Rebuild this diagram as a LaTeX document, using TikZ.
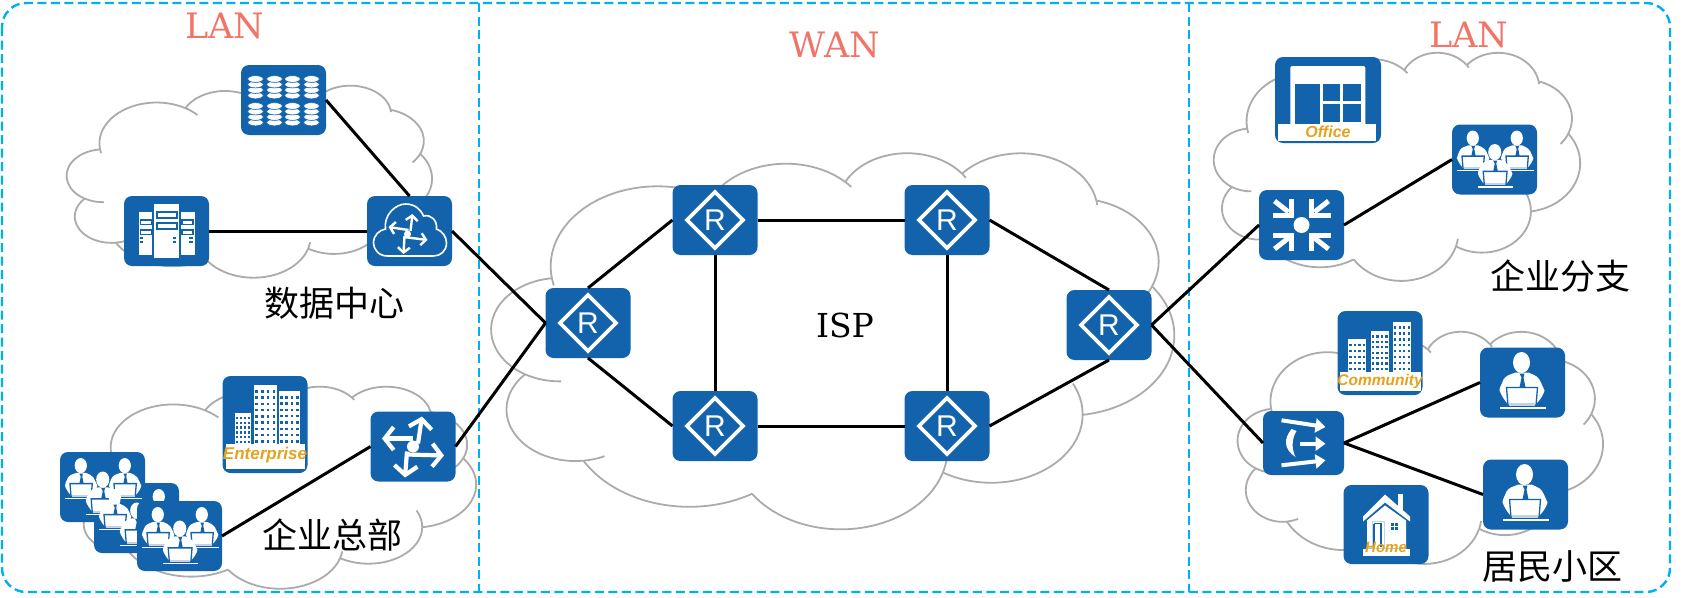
\documentclass[tikz,border=0pt]{standalone}
\usepackage{fontspec}
\setmainfont{DejaVu Serif}
\newfontfamily\cjkfont{Noto Sans CJK SC}
\newfontfamily\glyphfont{Liberation Sans}
\usetikzlibrary{arrows.meta}
\definecolor{boxblue}{HTML}{1363AC}
\definecolor{framecyan}{HTML}{00B0F0}
\definecolor{titlered}{HTML}{F07467}
\definecolor{cloudgray}{HTML}{ABABAB}
\definecolor{labelgold}{HTML}{E2A31E}
\definecolor{stripblue}{HTML}{C5D2E8}
\tikzset{
  devbox/.style={fill=boxblue,rounded corners=8pt,inner sep=0pt,outer sep=0pt,minimum width=85pt,minimum height=70pt},
  link/.style={line width=3pt,black},
  cloudline/.style={line width=1.8pt,cloudgray},
  zoneline/.style={line width=2.4pt,framecyan,dash pattern=on 9pt off 4.5pt},
  zonetitle/.style={titlered,font=\fontsize{35}{40}\selectfont},
  sitelabel/.style={black,font=\cjkfont\fontsize{35}{40}\selectfont},
  glyphline/.style={line width=3.8pt,white,line join=miter},
  taglabel/.style={labelgold,font=\glyphfont\itshape\bfseries\fontsize{#1}{#1}\selectfont,inner sep=0pt},
}
% cloud outline, one arc per lobe: rx/ry/start/sweep/extra before/extra after
\newcommand{\cloudshape}[4]{%
  \begin{scope}[shift={(#1,#2)},xscale=#3/432,yscale=#4/432]
    \coordinate (cpt) at (39,143.7);
    \foreach \rx/\ry/\sa/\sw/\pre/\post in {
      67.53/91.90/-190.49/123.78/8/14,
      53.33/72.67/-144.10/89.95/0/6,
      43.65/59.45/-145.81/99.72/0/6,
      48.57/65.95/-130.99/117.24/0/6,
      53.33/72.73/-78.71/109.03/0/20,
      67.75/92.20/-46.27/130.27/0/0,
      57.85/78.67/0.63/114.03/35/0,
      67.52/92.15/22.45/115.17/12/0,
      77.20/105.43/66.24/75.71/0/0,
      43.60/59.18/85.06/146.74/14/0,
      43.45/59.45/113.17/152.52/24/0}{
      \pgfmathsetmacro{\ta}{vang(\sa,\rx/\ry)}
      \pgfmathsetmacro{\tb}{vang(\sa+\sw,\rx/\ry)}
      \pgfmathsetmacro{\tc}{vang(\sa+\sw+\post,\rx/\ry)}
      \pgfmathsetmacro{\td}{vang(\sa-\pre,\rx/\ry)}
      \draw[cloudline] (cpt) arc[x radius=\rx,y radius=\ry,start angle=\ta,end angle=\tb] coordinate (cnext);
      \draw[cloudline] (cnext) arc[x radius=\rx,y radius=\ry,start angle=\tb,end angle=\tc];
      \draw[cloudline] (cpt) arc[x radius=\rx,y radius=\ry,start angle=\ta,end angle=\td];
      \coordinate (cpt) at (cnext);
    }
  \end{scope}}
\newcommand{\routerglyph}[1]{%
  \begin{scope}[shift={(#1.center)}]
    \draw[glyphline] (-28,0) -- (0,-28) -- (28,0) -- (0,28) -- cycle;
    \node[white,inner sep=0pt,font=\glyphfont\fontsize{30}{30}\selectfont] (#1r) at (0,0) {R};
  \end{scope}}
\newcommand{\towerglyph}[6]{%
  \fill[white] (#1,#2) rectangle ++(#3,#4);
  \foreach \i in {1,...,#5}
    \foreach \j in {1,...,#6}
      \fill[boxblue] ({#1+#3*(\i-.5)/#5-1.2},{#2+3+(#4-3)*(\j-.5)/#6-1.2}) rectangle ++(2.4,2.4);}
\newcommand{\personglyph}[3]{%
  \begin{scope}[shift={(#1,#2)},scale=#3]
    \fill[white] (-1,-20) ellipse (8.5 and 10.5);
    \fill[white] (-7,-10) .. controls (-12,-8) and (-17,-7) .. (-19,-3) .. controls (-21,2) and (-23,5) .. (-23,8)
      .. controls (-21,13) and (-18,18) .. (-15,21) -- (14,21) .. controls (18,17) and (21,12) .. (22,8)
      .. controls (20,4) and (18,-2) .. (16,-4) .. controls (14,-7) and (10,-8) .. (6,-10) -- cycle;
    \fill[boxblue] (-3,-9) -- (2,-9) -- (1,-5) -- (3,5) -- (-3,5) -- (-1,-5) -- cycle;
    \draw[boxblue,line width=1.3pt,fill=white] (-16,5) -- (15,5) -- (13.5,23) -- (-14.5,23) -- cycle;
    \fill[stripblue] (-13.5,20.5) rectangle (12.5,23);
    \fill[white] (-23,24.5) rectangle (23,26);
  \end{scope}}
\newcommand{\groupglyph}[1]{%
  \begin{scope}[shift={(#1.center)}]
    \personglyph{-21}{-7}{.72}
    \personglyph{23}{-7}{.72}
    \personglyph{1}{8}{.77}
  \end{scope}}
\newcommand{\userglyph}[1]{%
  \begin{scope}[shift={(#1.center)}]
    \personglyph{0}{0}{1}
  \end{scope}}
\begin{document}
\begin{tikzpicture}[x=1pt,y=-1pt,
  declare function={vang(\a,\r)=atan2(\r*sin(\a),cos(\a))+360*round((\a-atan2(\r*sin(\a),cos(\a)))/360);}]
  \useasboundingbox (0,0) rectangle (1688,597);

  % Clouds
  \cloudshape{67}{85}{365}{192}
  \cloudshape{490}{152}{683}{376}
  \cloudshape{75}{386}{401}{202}
  \cloudshape{1214}{52}{366}{228}
  \cloudshape{1238}{331}{365}{232}

  % Zones
  \draw[zoneline,rounded corners=24pt] (2,3) rectangle (1670,592);
  \draw[zoneline] (479,3) -- (479,592);
  \draw[zoneline] (1189,3) -- (1189,592);
  \node[zonetitle] (lanleft) at (225,26) {LAN};
  \node[zonetitle] (wan) at (835,45) {WAN};
  \node[zonetitle] (lanright) at (1469,35) {LAN};
  \node[font=\fontsize{33}{40}\selectfont] (isp) at (845,325) {ISP};

  % Data centre
  \node[devbox] (storage) at (283.5,100) {};
  \node[devbox] (servers) at (166.5,231) {};
  \node[devbox] (cloudgw) at (409.5,231) {};
  \node[sitelabel] (dclabel) at (334,303) {数据中心};

  % Headquarters
  \node[devbox,minimum height=97pt] (enterprise) at (265,424.5) {};
  \node[devbox] (hqgw) at (413,446.5) {};
  \node[devbox] (hqusersa) at (102.5,487) {};
  \node[devbox] (hqusersb) at (136.5,518) {};
  \groupglyph{hqusersa}
  \groupglyph{hqusersb}
  \node[devbox] (hqusersc) at (179.5,536) {};
  \groupglyph{hqusersc}
  \node[sitelabel] (hqlabel) at (332,535) {企业总部};

  % ISP routers
  \node[devbox] (ispwest) at (588,323) {};
  \node[devbox] (ispa) at (715,220) {};
  \node[devbox] (ispb) at (947,220) {};
  \node[devbox] (ispc) at (715,426) {};
  \node[devbox] (ispd) at (947,426) {};
  \node[devbox] (ispeast) at (1109,325) {};
  \foreach \rt in {ispwest,ispa,ispb,ispc,ispd,ispeast} {\routerglyph{\rt}}

  % Branch
  \node[devbox,minimum width=106pt,minimum height=86pt] (office) at (1328,100) {};
  \node[devbox] (branchgw) at (1301.5,225) {};
  \node[devbox] (branchusers) at (1494.5,159.5) {};
  \groupglyph{branchusers}
  \node[sitelabel] (branchlabel) at (1560,276) {企业分支};

  % Community
  \node[devbox,minimum height=84pt] (community) at (1380,353) {};
  \node[devbox,minimum width=81pt,minimum height=64pt] (homegw) at (1303.5,443) {};
  \node[devbox] (usera) at (1522.5,382.5) {};
  \node[devbox] (userb) at (1525.5,494.5) {};
  \userglyph{usera}
  \userglyph{userb}
  \node[devbox,minimum height=79pt] (home) at (1386,524.5) {};
  \node[sitelabel] (homelabel) at (1552,567) {居民小区};

  % Links
  \draw[link] (storage.east) -- (cloudgw.north);
  \draw[link] (servers.east) -- (cloudgw.west);
  \draw[link] (cloudgw.east) -- (ispwest.west);
  \draw[link] (hqusersc.east) -- (hqgw.west);
  \draw[link] (hqgw.east) -- (ispwest.west);
  \draw[link] (ispwest.north) -- (ispa.west);
  \draw[link] (ispwest.south) -- (ispc.west);
  \draw[link] (ispa.east) -- (ispb.west);
  \draw[link] (ispc.east) -- (ispd.west);
  \draw[link] (ispa.south) -- (ispc.north);
  \draw[link] (ispb.south) -- (ispd.north);
  \draw[link] (ispb.east) -- (ispeast.north);
  \draw[link] (ispd.east) -- (ispeast.south);
  \draw[link] (ispeast.east) -- (branchgw.west);
  \draw[link] (ispeast.east) -- (homegw.west);
  \draw[link] (branchgw.east) -- (branchusers.west);
  \draw[link] (homegw.east) -- (usera.west);
  \draw[link] (homegw.east) -- (userb.west);

  % Storage disks
  \begin{scope}[shift={(storage.center)}]
    \foreach \cx in {-28,-9,9,28}
      \foreach \cy in {-13,14}
        \foreach \dy in {8.5,3,-2.5,-8}
          \draw[boxblue,line width=.7pt,fill=white] (\cx,\cy+\dy) ellipse (7.8 and 3.4);
  \end{scope}

  % Server racks
  \begin{scope}[shift={(servers.center)}]
    \fill[white] (-12.7,-27) rectangle (12,27);
    \fill[white] (-27.7,-19) rectangle (-14.7,24);
    \fill[white] (14,-19) rectangle (28,24);
    \foreach \ry in {-19,-8}
      \draw[boxblue,line width=2pt] (-10,\ry) rectangle (10,\ry+6);
    \foreach \rx in {-26,15.5}
      \foreach \ry in {-11,-1}
        \draw[boxblue,line width=1.6pt] (\rx,\ry) rectangle (\rx+11,\ry+4.5);
    \foreach \rx in {-27,6,22.5}
      \foreach \ry in {6,10}
        \fill[boxblue] (\rx,\ry) rectangle (\rx+3.8,\ry+2);
  \end{scope}

  % Cloud gateway
  \begin{scope}[shift={(cloudgw.center)}]
    \draw[white,line width=1.6pt] (-22,25) .. controls (-32,25) and (-36,17) .. (-36,12)
      .. controls (-36,4) and (-30,-1) .. (-24,-2) .. controls (-26,-16) and (-14,-27) .. (-4,-27)
      .. controls (5,-27) and (11,-22) .. (14,-15) .. controls (22,-17) and (28,-10) .. (27,-2)
      .. controls (33,0) and (37,6) .. (37,12) .. controls (37,20) and (31,25) .. (24,25) -- cycle;
    \fill[white] (-2,3) circle (3.5);
    \begin{scope}[white,line width=2.4pt,arrows={-{Straight Barb[length=5pt,width=12pt,line width=2.4pt]}}]
      \draw (1,0) -- (3,-17);
      \draw (-6,6) -- (18,9);
      \draw (-5,5) -- (-6,23);
      \draw (-1,-1) -- (-21,-4);
    \end{scope}
  \end{scope}

  % Headquarters gateway
  \begin{scope}[shift={(hqgw.center)}]
    \fill[white] (0,0) circle (6);
    \begin{scope}[white,line width=4.2pt,arrows={-{Straight Barb[length=9pt,width=23pt,line width=4.2pt]}}]
      \draw (5,-3) -- (9,-30);
      \draw (-6,8) -- (31,9);
      \draw (-6,5) -- (-8,31);
      \draw (0,-8) -- (-31,-8);
    \end{scope}
  \end{scope}

  % Branch gateway
  \begin{scope}[shift={(branchgw.center)}]
    \fill[white] (0,0) circle (8);
    \foreach \mx/\my in {1/1,1/-1,-1/1,-1/-1} {
      \begin{scope}[xscale=\mx,yscale=\my]
        \draw[white,line width=5pt,line join=miter] (-10,-26) -- (-10,-10) -- (-29,-10);
        \draw[white,line width=5pt] (-27,-24) -- (-13,-13);
      \end{scope}
    }
  \end{scope}

  % Home gateway
  \begin{scope}[shift={(homegw.center)}]
    \fill[white] (-12,-14) .. controls (-20,-4) and (-20,6) .. (-8,14) .. controls (-12,6) and (-12,-4) .. (-7,-12) -- cycle;
    \begin{scope}[white,line width=4pt,arrows={-{Triangle[length=10pt,width=14pt]}}]
      \draw (-22,-22.7) -- (22,-16);
      \draw (-3.3,.7) -- (22,.7);
      \draw (-22,22.3) -- (22,17.3);
    \end{scope}
  \end{scope}

  % Enterprise
  \begin{scope}[shift={(enterprise.center)}]
    \towerglyph{-30.3}{-12}{16}{32}{4}{6}
    \towerglyph{-11.3}{-39.3}{23.3}{59.3}{4}{9}
    \towerglyph{13.7}{-33.3}{21.3}{53.3}{4}{8}
    \fill[white] (-39.3,19.7) rectangle (39.7,44);
    \node[taglabel=17] (enterprisetag) at (0,31) {Enterprise};
  \end{scope}

  % Community
  \begin{scope}[shift={(community.center)}]
    \towerglyph{-32}{-14}{18.3}{32.7}{4}{5}
    \towerglyph{-9.3}{-22.3}{18}{41}{4}{7}
    \towerglyph{13}{-31.3}{18}{50}{4}{8}
    \fill[white] (-40.3,18.7) rectangle (40.7,37.7);
    \node[taglabel=15.5] (communitytag) at (0,28) {Community};
  \end{scope}

  % Office
  \begin{scope}[shift={(office.center)}]
    \fill[white,rounded corners=2pt] (-37.7,-34) rectangle (37.3,26);
    \fill[boxblue] (-32.7,-16) rectangle (-8.3,24);
    \foreach \wx/\wy in {-5.3/-16,15/-16,-5.3/4.3,15/4.3}
      \fill[boxblue] (\wx,\wy) rectangle ++(17.5,17.4);
    \fill[white] (-50.3,24) rectangle (48.3,40.7);
    \node[taglabel=16] (officetag) at (0,32) {Office};
  \end{scope}

  % Home
  \begin{scope}[shift={(home.center)}]
    \fill[white] (12,-31) rectangle (17,-14);
    \fill[white] (-1,-30) -- (24,-8) -- (24,-3) -- (-1,-22) -- (-23,-3) -- (-23,-8) -- cycle;
    \fill[white] (-19,-4) -- (-1,-19) -- (20,-4) -- (20,24) -- (-19,24) -- cycle;
    \draw[stripblue,line width=.9pt] (-14,-3) rectangle (-2,24);
    \draw[boxblue,line width=1.2pt] (-12,-1) -- (-5,-1) -- (-5,22);
    \draw[boxblue,line width=1.2pt] (-12,-1) -- (-12,22);
    \foreach \wx/\wy in {5/-2,9/-2,5/2,9/2}
      \fill[boxblue] (\wx,\wy) rectangle ++(3,3);
    \fill[white] (-23,24) rectangle (24,31);
    \node[taglabel=15] (hometag) at (0,23) {Home};
  \end{scope}
\end{tikzpicture}
\end{document}
